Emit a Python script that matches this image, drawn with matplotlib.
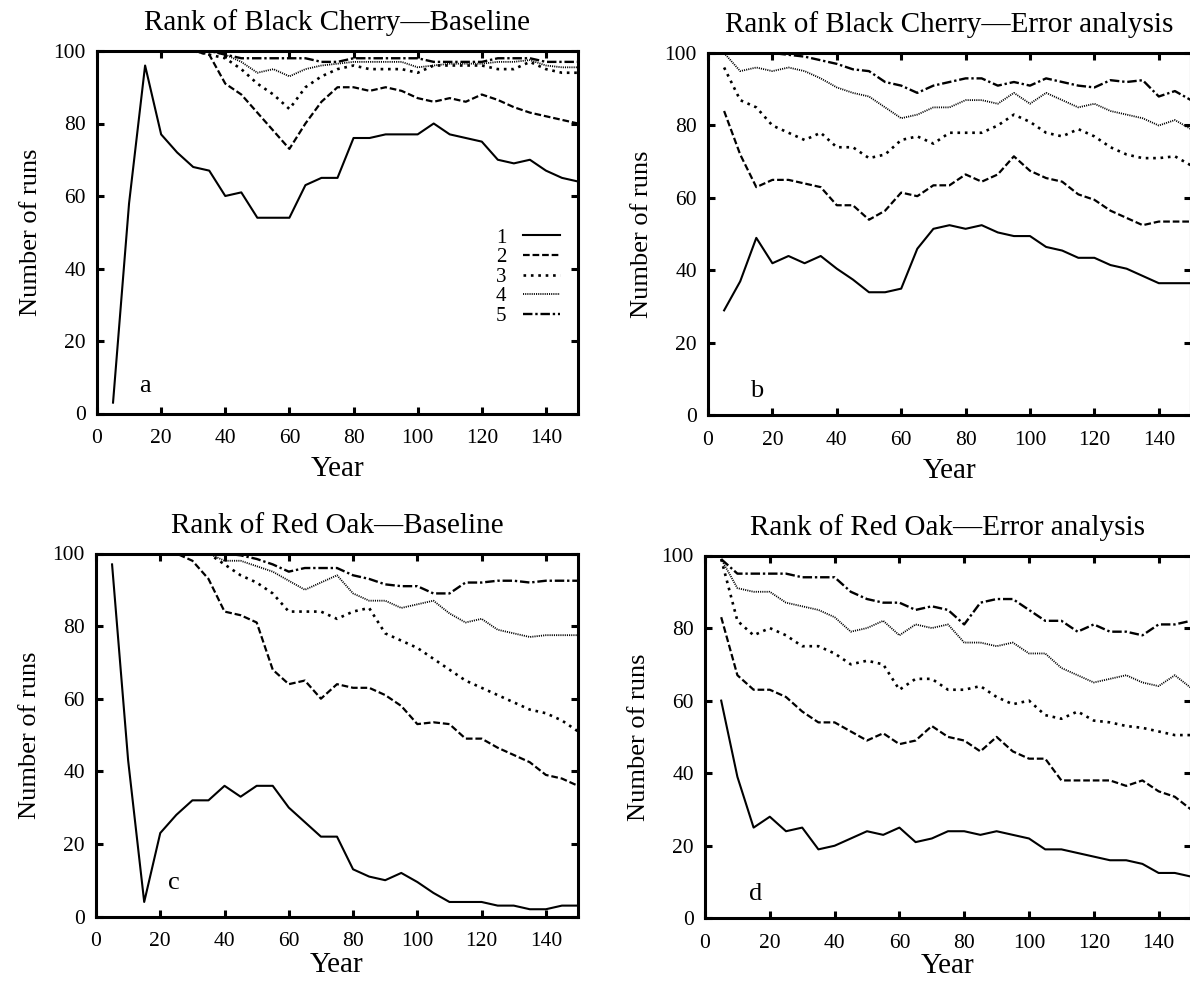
import matplotlib

matplotlib.use("Agg")
import matplotlib.pyplot as plt

plt.rcParams["font.family"] = ["Liberation Serif", "DejaVu Serif"]

YEARS = [5, 10, 15, 20, 25, 30, 35, 40, 45, 50, 55, 60, 65, 70, 75,
         80, 85, 90, 95, 100, 105, 110, 115, 120, 125, 130, 135, 140, 145, 150]

# a: Black Cherry, baseline
CHERRY_BASE_1 = [3, 58, 96, 77, 72, 68, 67, 60, 61, 54, 54, 54, 63, 65, 65,
                 76, 76, 77, 77, 77, 80, 77, 76, 75, 70, 69, 70, 67, 65, 64]
CHERRY_BASE_2 = [100, 100, 100, 100, 100, 100, 99, 91, 88, 83, 78, 73, 80, 86, 90,
                 90, 89, 90, 89, 87, 86, 87, 86, 88, 86.5, 84.5, 83, 82, 81, 80]
CHERRY_BASE_3 = [100, 100, 100, 100, 100, 100, 99, 98, 95, 91, 88, 84, 90, 93, 95,
                 96, 95, 95, 95, 94, 96, 96, 96, 96, 95, 95, 97, 95, 94, 94]
CHERRY_BASE_4 = [100, 100, 100, 100, 100, 100, 100, 99, 97, 94, 95, 93, 95, 96, 96.5,
                 97, 97, 97, 97, 95.5, 96, 96.5, 96.5, 96.5, 97, 97, 97.5, 96, 95.5, 95.5]
CHERRY_BASE_5 = [100, 100, 100, 100, 100, 100, 100, 99, 98, 98, 98, 98, 98, 97, 97,
                 98, 98, 98, 98, 98, 97, 97, 97, 97, 98, 98, 98, 97, 97, 97]

# b: Black Cherry, error analysis
CHERRY_ERR_1 = [29, 37, 49, 42, 44, 42, 44, 40.5, 37.5, 34, 34, 35, 46, 51.5, 52.5,
                51.5, 52.5, 50.5, 49.5, 49.5, 46.5, 45.5, 43.5, 43.5, 41.5, 40.5, 38.5, 36.5, 36.5, 36.5]
CHERRY_ERR_2 = [84, 72, 63, 65, 65, 64, 63, 58, 58, 54, 56.5, 61.5, 60.5, 63.5, 63.5,
                66.5, 64.5, 66.5, 71.5, 67.5, 65.5, 64.5, 61, 59.5, 56.5, 54.5, 52.5, 53.5, 53.5, 53.5]
CHERRY_ERR_3 = [96, 87, 85, 80, 78, 76, 78, 74, 74, 71, 72, 76, 77, 75, 78,
                78, 78, 80, 83, 81, 78, 77, 79, 77, 74, 72, 71, 71, 71.5, 69]
CHERRY_ERR_4 = [100, 95, 96, 95, 96, 95, 93, 90.5, 89, 88, 85, 82, 83, 85, 85,
                87, 87, 86, 89, 86, 89, 87, 85, 86, 84, 83, 82, 80, 81.5, 79]
CHERRY_ERR_5 = [100, 100, 100, 100, 99.5, 99, 98, 97, 95.5, 95, 92, 91, 89, 91, 92,
                93, 93, 91, 92, 91, 93, 92, 91, 90.5, 92.5, 92, 92.5, 88, 89.5, 87]

# c: Red Oak, baseline
OAK_BASE_1 = [97, 43, 4, 23, 28, 32, 32, 36, 33, 36, 36, 30, 26, 22, 22,
              13, 11, 10, 12, 9.5, 6.5, 4, 4, 4, 3, 3, 2, 2, 3, 3]
OAK_BASE_2 = [100, 100, 100, 100, 100, 98, 93, 84, 83, 81, 68, 64, 65, 60, 64,
              63, 63, 61, 58, 53, 53.5, 53, 49, 49, 46.5, 44.5, 42.5, 39, 38, 36]
OAK_BASE_3 = [100, 100, 100, 100, 100, 100, 100, 97, 94, 92, 89, 84, 84, 84, 82,
              84, 85, 78, 76, 74, 71, 68, 65, 63, 61, 59, 57, 56, 54, 51]
OAK_BASE_4 = [100, 100, 100, 100, 100, 100, 100, 98, 98, 96.5, 95, 92.5, 90, 92, 94,
              89, 87, 87, 85, 86, 87, 83.5, 81, 82, 79, 78, 77, 77.5, 77.5, 77.5]
OAK_BASE_5 = [100, 100, 100, 100, 100, 100, 100, 100, 99.5, 98.5, 97, 95, 96, 96, 96,
              94, 93, 91.5, 91, 91, 89, 89, 92, 92, 92.5, 92.5, 92, 92.5, 92.5, 92.5]

# d: Red Oak, error analysis
OAK_ERR_1 = [60, 39, 25, 28, 24, 25, 19, 20, 22, 24, 23, 25, 21, 22, 24,
             24, 23, 24, 23, 22, 19, 19, 18, 17, 16, 16, 15, 12.5, 12.5, 11.5]
OAK_ERR_2 = [83, 67, 63, 63, 61, 57, 54, 54, 51.5, 49, 51, 48, 49, 53, 50,
             49, 46, 50, 46, 44, 44, 38, 38, 38, 38, 36.5, 38, 35, 33.5, 30]
OAK_ERR_3 = [99, 82, 78, 80, 78, 75, 75, 73, 70, 71, 70, 63, 66, 66, 63,
             63, 64, 61, 59, 60, 56, 55, 57, 54.5, 54, 53, 52.5, 51.5, 50.5, 50.5]
OAK_ERR_4 = [99, 91, 90, 90, 87, 86, 85, 83, 79, 80, 82, 78, 81, 80, 81,
             76, 76, 75, 76, 73, 73, 69, 67, 65, 66, 67, 65, 64, 67, 63.5]
OAK_ERR_5 = [99, 95, 95, 95, 95, 94, 94, 94, 90, 88, 87, 87, 85, 86, 85,
             81, 87, 88, 88, 85, 82, 82, 79, 81, 79, 79, 78, 81, 81, 82]

RANK_LABELS = ["1", "2", "3", "4", "5"]
LINE_STYLES = ["-", (0, (3, 1.3)), (0, (1, 1.8)), (0, (0.6, 0.6)), (0, (4, 1.2, 1, 1.2))]
LINE_WIDTHS = [1.5, 1.6, 1.9, 1.3, 1.7]


def draw_panel(fig, rect, series, title, letter, letter_xy, legend=False, xlabel_pad=6):
    ax = fig.add_axes(rect)
    for values, label, ls, lw in zip(series, RANK_LABELS, LINE_STYLES, LINE_WIDTHS):
        ax.plot(YEARS, values, color="black", linestyle=ls, linewidth=lw, label=label)
    ax.set_xlim(0, 150)
    ax.set_ylim(0, 100)
    ax.set_xticks(range(0, 141, 20))
    ax.set_yticks(range(0, 101, 20))
    ax.tick_params(direction="in", length=5, width=2.2, top=True, right=True,
                   labelsize=15.5)
    ax.tick_params(axis="x", pad=11)
    ax.tick_params(axis="y", pad=8)
    for spine in ax.spines.values():
        spine.set_linewidth(2.2)
    ax.set_title(title, fontsize=21, pad=15)
    ax.set_xlabel("Year", fontsize=21, labelpad=xlabel_pad)
    ax.set_ylabel("Number of runs", fontsize=19, labelpad=8)
    ax.text(letter_xy[0], letter_xy[1], letter, fontsize=19, ha="left", va="baseline")
    if legend:
        ax.legend(loc="upper right", bbox_to_anchor=(0.985, 0.54), frameon=False,
                  markerfirst=False, fontsize=15, labelspacing=0.0,
                  handlelength=1.8, handletextpad=0.8, borderpad=0.0)
    return ax


def main() -> None:
    W, H = 1190, 983
    fig = plt.figure(figsize=(W / 100, H / 100), dpi=100)

    def rect(x0, x1, y_top, y_bot):
        return [x0 / W, 1 - y_bot / H, (x1 - x0) / W, (y_bot - y_top) / H]

    draw_panel(fig, rect(97, 578, 51, 413.5),
               [CHERRY_BASE_1, CHERRY_BASE_2, CHERRY_BASE_3, CHERRY_BASE_4, CHERRY_BASE_5],
               "Rank of Black Cherry\u2014Baseline", "a", (13, 6), legend=True)
    draw_panel(fig, rect(708, 1191, 53, 415.5),
               [CHERRY_ERR_1, CHERRY_ERR_2, CHERRY_ERR_3, CHERRY_ERR_4, CHERRY_ERR_5],
               "Rank of Black Cherry\u2014Error analysis", "b", (13, 5))
    draw_panel(fig, rect(96, 578, 553.5, 916.5),
               [OAK_BASE_1, OAK_BASE_2, OAK_BASE_3, OAK_BASE_4, OAK_BASE_5],
               "Rank of Red Oak\u2014Baseline", "c", (22.5, 7.5), xlabel_pad=1)
    draw_panel(fig, rect(705, 1191, 555.5, 918.3),
               [OAK_ERR_1, OAK_ERR_2, OAK_ERR_3, OAK_ERR_4, OAK_ERR_5],
               "Rank of Red Oak\u2014Error analysis", "d", (13.5, 5), xlabel_pad=0)

    fig.savefig("out.png", dpi=100)
    plt.close(fig)


if __name__ == "__main__":
    main()
